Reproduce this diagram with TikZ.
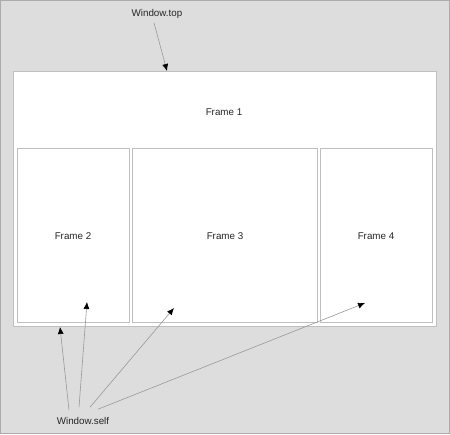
\documentclass[tikz,border=0pt]{standalone}
\usepackage{fontspec}
\setmainfont{Liberation Sans}
\usetikzlibrary{arrows.meta,positioning}
\definecolor{winbg}{HTML}{DDDDDD}

\begin{document}
\begin{tikzpicture}[x=1pt,y=-1pt,
    lbl/.style={font=\fontsize{9.8}{11}\selectfont, text=black!85, inner sep=1pt},
    pointer/.style={draw=black!40, line width=0.6pt, -{Latex[length=7pt,width=6pt,color=black]}},
    box/.style={draw=black!25, fill=white, line width=1pt}]

                % Window background
                \draw[draw=black!33, fill=winbg, line width=1pt] (0.5,0.5) rectangle (449.5,433.5);
                \useasboundingbox (0,0) rectangle (450,434);

                % Frames
                \draw[box] (13.5,71.5) rectangle (436.5,326);
                \draw[box] (17,148) rectangle (129.5,322.5);
                \draw[box] (132.5,148) rectangle (317.5,322.5);
                \draw[box] (320.5,148) rectangle (432.5,322.5);

                % Frame labels
                \node[lbl] (f1) at (224,112) {Frame 1};
                \node[lbl] (f2) at (73,236) {Frame 2};
                \node[lbl] (f3) at (225,236) {Frame 3};
                \node[lbl] (f4) at (376,236) {Frame 4};

                % Window labels
                \node[lbl] (top) at (157,14) {Window.top};
                \node[lbl] (self) at (83,421) {Window.self};

                % Arrow targets
                \coordinate (t1) at (167,71);
                \coordinate (s1) at (60,327);
                \coordinate (s2) at (87,302);
                \coordinate (s3) at (174,308);
                \coordinate (s4) at (365,303);

                % Pointers
                \draw[pointer] ([xshift=-3pt,yshift=-3pt]top.south) -- (t1);
                \draw[pointer] ([xshift=-14pt,yshift=6pt]self.north) -- (s1);
                \draw[pointer] ([xshift=-4pt,yshift=9pt]self.north) -- (s2);
                \draw[pointer] ([xshift=7pt,yshift=9pt]self.north) -- (s3);
                \draw[pointer] ([xshift=15pt,yshift=7pt]self.north) -- (s4);
\end{tikzpicture}
\end{document}
